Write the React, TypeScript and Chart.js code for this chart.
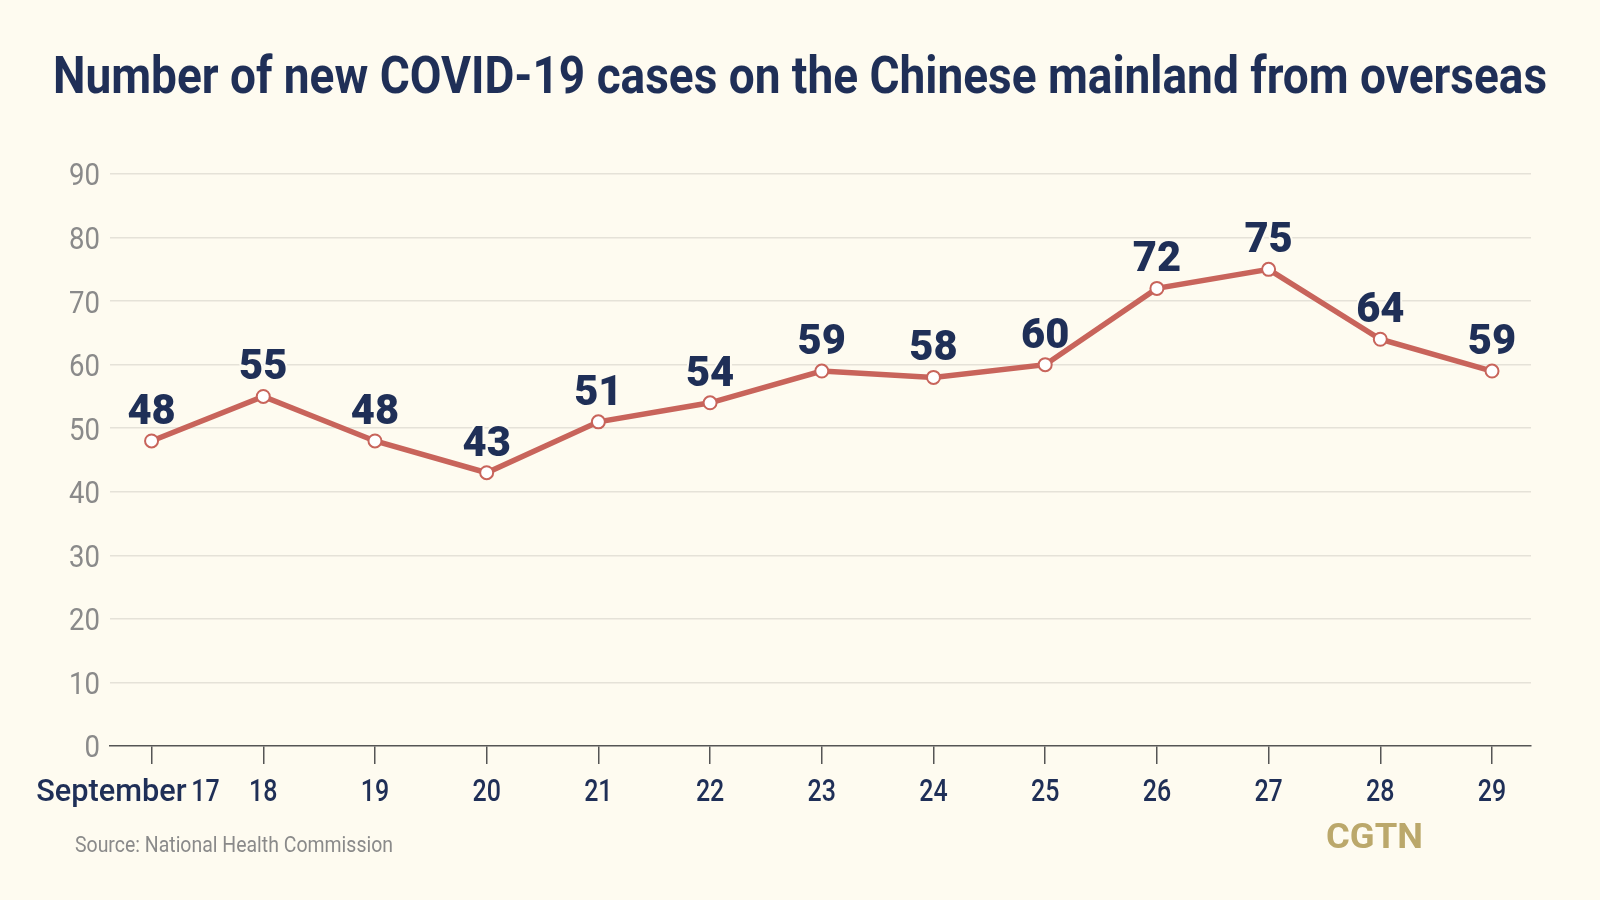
import React, { useEffect, useRef } from "react";
import { Chart, registerables } from "chart.js";

Chart.register(...registerables);

const title = "Number of new COVID-19 cases on the Chinese mainland from overseas";
const monthLabel = "September";
const days = ["17", "18", "19", "20", "21", "22", "23", "24", "25", "26", "27", "28", "29"];
const cases = [48, 55, 48, 43, 51, 54, 59, 58, 60, 72, 75, 64, 59];
const yTickValues = [0, 10, 20, 30, 40, 50, 60, 70, 80, 90];
const sourceText = "Source: National Health Commission";
const brandText = "CGTN";

const BG = "#FEFBF0";
const NAVY = "#1F2F57";
const RED = "#C8645B";
const GRID = "#E5E2D8";
const AXIS = "#555555";
const GREY = "#8A8A8A";
const GOLD = "#BBA86B";

function drawText(
  ctx: CanvasRenderingContext2D,
  text: string,
  x: number,
  y: number,
  font: string,
  color: string,
  align: "left" | "center" | "right",
  squash: number,
  fitWidth?: number,
  halo?: string
) {
  ctx.save();
  ctx.font = font;
  ctx.textBaseline = "alphabetic";
  ctx.textAlign = "left";
  const mw = ctx.measureText(text).width;
  const s = fitWidth ? fitWidth / mw : squash;
  const w = mw * s;
  const left = align === "center" ? x - w / 2 : align === "right" ? x - w : x;
  ctx.translate(left, y);
  ctx.scale(s, 1);
  if (halo) {
    ctx.strokeStyle = halo;
    ctx.lineWidth = 4;
    ctx.lineJoin = "round";
    ctx.strokeText(text, 0, 0);
  }
  ctx.fillStyle = color;
  ctx.fillText(text, 0, 0);
  ctx.restore();
}

const decorPlugin = {
  id: "decor",
  beforeDraw(chart: any) {
    const ctx = chart.ctx as CanvasRenderingContext2D;
    ctx.save();
    ctx.fillStyle = BG;
    ctx.fillRect(0, 0, chart.width, chart.height);
    ctx.restore();
  },
  afterDraw(chart: any) {
    const ctx = chart.ctx as CanvasRenderingContext2D;
    const xs = chart.scales.x;
    const ys = chart.scales.y;
    const area = chart.chartArea;

    drawText(ctx, title, 800, 93, "bold 52px Roboto", NAVY, "center", 1, 1494);

    yTickValues.forEach((v) => {
      const py = ys.getPixelForValue(v);
      drawText(ctx, String(v), area.left - 10, py + 11.4, "400 32px Roboto", GREY, "right", 0.86);
    });

    days.forEach((d, i) => {
      const px = xs.getPixelForValue(i);
      if (i === 0) {
        drawText(ctx, d, px + 54, 801, "500 32px Roboto", NAVY, "center", 0.78);
        drawText(ctx, monthLabel, px + 35, 801, "500 32px Roboto", NAVY, "right", 0.96);
      } else {
        drawText(ctx, d, px, 801, "500 32px Roboto", NAVY, "center", 0.78);
      }
    });

    drawText(ctx, sourceText, 75, 852, "400 22px Roboto", GREY, "left", 1, 318);
    drawText(ctx, brandText, 1326, 848, "bold 35px Roboto", GOLD, "left", 1, 97);
  },
  afterDatasetsDraw(chart: any) {
    const ctx = chart.ctx as CanvasRenderingContext2D;
    const meta = chart.getDatasetMeta(0);
    meta.data.forEach((pt: any, i: number) => {
      drawText(ctx, String(cases[i]), pt.x, pt.y - 17, "900 43px Roboto", NAVY, "center", 0.97, undefined, BG);
    });
  },
};

export default function App() {
  const canvasRef = useRef<HTMLCanvasElement | null>(null);

  useEffect(() => {
    document.body.style.margin = "0";
    document.body.style.background = BG;
    const canvas = canvasRef.current;
    if (!canvas) return;
    const chart = new Chart(canvas, {
      type: "line",
      data: {
        datasets: [
          {
            data: cases.map((v, i) => ({ x: i, y: v })),
            borderColor: RED,
            borderWidth: 5.5,
            pointRadius: 6.5,
            pointBorderWidth: 2,
            pointBackgroundColor: "#FFFFFF",
            pointBorderColor: RED,
            tension: 0,
            fill: false,
          },
        ],
      },
      options: {
        responsive: false,
        animation: false,
        devicePixelRatio: 1,
        layout: { padding: { top: 174, right: 69, left: 0, bottom: 0 } },
        plugins: {
          legend: { display: false },
          tooltip: { enabled: false },
          title: { display: false },
        },
        scales: {
          x: {
            type: "linear",
            min: -0.372,
            max: 12.349,
            afterBuildTicks: (scale: any) => {
              scale.ticks = days.map((_, i) => ({ value: i }));
            },
            afterFit: (scale: any) => {
              scale.height = 154;
            },
            ticks: { display: false },
            grid: {
              drawOnChartArea: false,
              drawTicks: true,
              tickLength: 18,
              color: AXIS,
              lineWidth: 1.5,
            },
            border: { display: true, color: AXIS, width: 1.5 },
          },
          y: {
            type: "linear",
            min: 0,
            max: 90,
            afterBuildTicks: (scale: any) => {
              scale.ticks = yTickValues.map((v) => ({ value: v }));
            },
            afterFit: (scale: any) => {
              scale.width = 110;
            },
            ticks: { display: false },
            grid: {
              drawTicks: false,
              color: (c: any) => (c.tick && c.tick.value === 0 ? "rgba(0,0,0,0)" : GRID),
              lineWidth: 1.5,
            },
            border: { display: false },
          },
        },
      },
      plugins: [decorPlugin],
    });
    return () => chart.destroy();
  }, []);

  return (
    <div style={{ position: "absolute", left: 0, top: 0, width: 1600, height: 900, background: BG }}>
      <canvas ref={canvasRef} width={1600} height={900} style={{ display: "block" }} />
    </div>
  );
}
